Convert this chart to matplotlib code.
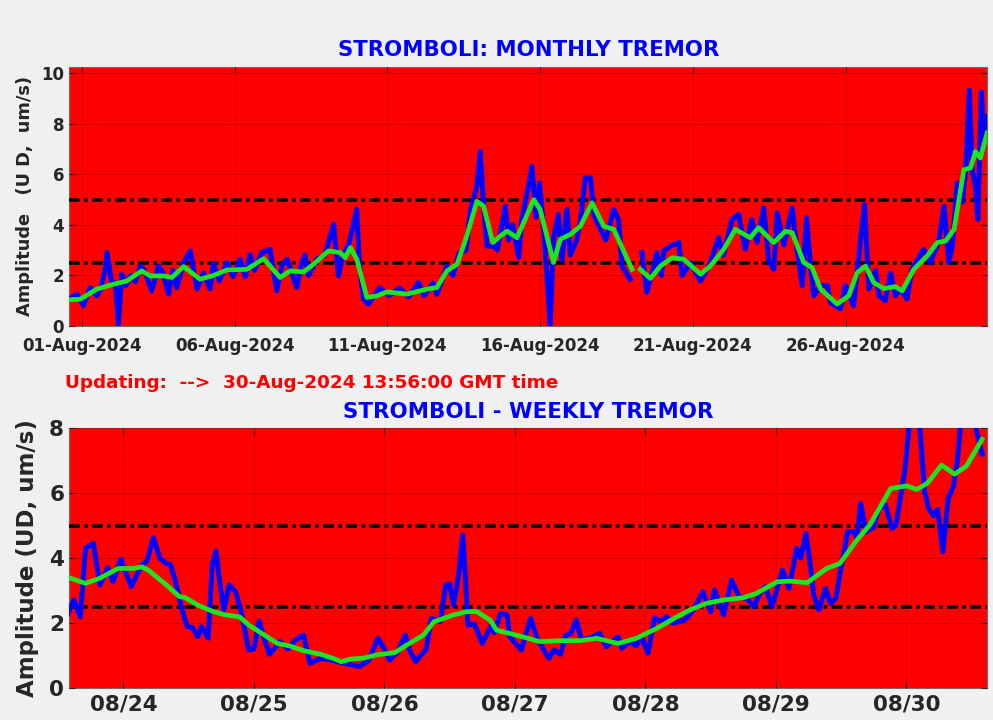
import numpy as np
import pandas as pd
import matplotlib
matplotlib.use('Agg')
from matplotlib import pyplot as plt
from matplotlib import dates as mdates

# monthly tremor, days since 2024-08-01 00:00 (UTC)
m_blue_d = [-0.42, -0.16, 0.05, 0.27, 0.49, 0.62, 0.78, 0.82, 0.88, 0.98,
            1.10, 1.20, 1.31, 1.45, 1.60, 1.75, 1.91, 2.05, 2.29, 2.51,
            2.65, 2.84, 2.97, 3.11, 3.33, 3.55, 3.77, 3.98, 4.20, 4.31,
            4.50, 4.75, 4.95, 5.18, 5.35, 5.51, 5.65, 5.89, 6.16, 6.38,
            6.55, 6.72, 7.04, 7.15, 7.30, 7.42, 7.69, 7.95, 8.24, 8.40,
            8.55, 8.75, 9.00, 9.08, 9.22, 9.38, 9.75, 10.05, 10.40, 10.70,
            11.02, 11.20, 11.50, 11.62, 11.95, 12.15, 12.35, 12.58, 12.71, 12.93,
            13.04, 13.15, 13.26, 13.48, 13.60, 13.86, 13.97, 14.10, 14.30, 14.40,
            14.68, 14.73, 14.87, 14.98, 15.12, 15.33, 15.44, 15.60, 15.71, 15.88,
            15.99, 16.20, 16.32, 16.48, 16.65, 16.76, 16.98, 17.15, 17.41, 17.57,
            17.68, 17.95, np.nan, 18.33, 18.49, 18.70, 18.82, 18.97, 19.05, 19.27,
            19.54, 19.65, 19.92, 20.25, 20.57, 20.84, 21.00, 21.28, 21.50, 21.71,
            21.93, 22.10, 22.32, 22.48, 22.65, 22.76, 22.98, 23.25, 23.41, 23.58,
            23.72, 23.85, 23.96, 24.18, 24.40, 24.50, 24.83, 24.99, 25.26, 25.48,
            25.62, 25.76, 25.98, 26.09, 26.30, 26.47, 26.63, 26.79, 27.01, 27.17,
            27.55, 27.77, 28.04, 28.22, 28.38, 28.49, 28.65, 28.82, 28.93, 29.05,
            29.14, 29.25, 29.33, 29.44, 29.53, 29.63]
m_blue_v = [1.06, 1.26, 0.80, 1.52, 1.19, 1.45, 2.35, 2.90, 2.45, 1.72,
            1.70, 0.08, 2.05, 1.60, 2.00, 1.75, 2.37, 2.20, 1.39, 2.37,
            2.10, 1.26, 2.20, 1.52, 2.50, 2.97, 1.46, 2.10, 1.46, 2.47,
            1.78, 2.51, 1.95, 2.64, 1.95, 2.83, 2.20, 2.90, 3.03, 1.39,
            2.40, 2.64, 1.52, 2.30, 2.80, 2.00, 2.64, 2.80, 4.02, 1.98,
            2.80, 3.30, 4.61, 2.50, 1.06, 0.86, 1.52, 1.20, 1.50, 1.15,
            1.72, 1.20, 1.70, 1.25, 2.37, 2.00, 2.90, 3.00, 4.54, 5.52,
            6.90, 4.80, 3.16, 3.16, 3.00, 4.74, 3.40, 4.00, 2.70, 4.20,
            5.92, 6.31, 4.30, 5.66, 3.82, 0.01, 3.50, 4.41, 2.60, 4.61,
            2.80, 3.40, 4.20, 5.85, 5.85, 4.40, 3.82, 3.40, 4.61, 4.20,
            2.37, 1.85, np.nan, 2.90, 1.33, 2.24, 2.90, 2.00, 2.97, 3.16,
            3.30, 2.00, 2.50, 1.78, 2.50, 3.49, 2.80, 4.21, 4.41, 3.03,
            4.21, 3.30, 4.67, 2.60, 2.24, 4.47, 3.20, 4.67, 3.00, 1.59,
            4.28, 2.40, 1.19, 1.60, 1.60, 0.93, 0.67, 1.60, 0.80, 3.30,
            4.80, 1.46, 2.20, 1.20, 1.00, 2.10, 1.20, 1.46, 1.06, 2.24,
            3.03, 2.50, 3.30, 4.74, 2.51, 3.15, 5.66, 4.90, 6.18, 9.33,
            6.18, 5.52, 4.21, 9.26, 7.30, 8.28]

m_green_d = [-0.42, -0.05, 0.49, 1.03, 1.47, 1.96, 2.24, 2.67, 2.95, 3.33,
             3.87, 4.31, 4.75, 5.40, 5.95, 6.49, 6.82, 7.26, 7.58, 8.07,
             8.46, 8.62, 8.79, 9.00, 9.33, 9.66, 9.99, 10.64, 11.30, 11.62,
             11.95, 12.28, 12.60, 12.93, 13.15, 13.45, 13.70, 13.92, 14.24, 14.46,
             14.79, 15.00, 15.44, 15.66, 15.99, 16.32, 16.70, 17.08, 17.41, 18.01,
             np.nan, 18.28, 18.61, 18.94, 19.32, 19.70, 20.25, 20.57, 21.01, 21.39,
             21.88, 22.15, 22.65, 23.03, 23.25, 23.63, 23.90, 24.18, 24.72, 25.10,
             25.38, 25.65, 25.92, 26.25, 26.63, 26.85, 27.23, 27.67, 28.00, 28.27,
             28.55, 28.87, 29.09, 29.25, 29.41, 29.63]
m_green_v = [1.04, 1.06, 1.46, 1.65, 1.78, 2.18, 1.98, 1.98, 1.92, 2.35,
             1.85, 2.00, 2.22, 2.24, 2.66, 1.92, 2.18, 2.14, 2.44, 2.97,
             2.90, 2.70, 3.10, 2.64, 1.13, 1.19, 1.35, 1.26, 1.46, 1.52,
             2.18, 2.44, 3.56, 4.93, 4.74, 3.30, 3.56, 3.75, 3.49, 4.08,
             5.00, 4.61, 2.51, 3.43, 3.62, 3.95, 4.87, 3.95, 3.82, 2.24,
             np.nan, 2.24, 1.88, 2.37, 2.70, 2.64, 2.05, 2.37, 3.03, 3.82,
             3.49, 3.89, 3.30, 3.75, 3.69, 2.51, 2.31, 1.46, 0.87, 1.19,
             2.11, 2.37, 1.72, 1.48, 1.56, 1.39, 2.24, 2.77, 3.30, 3.36,
             3.82, 6.18, 6.25, 6.90, 6.64, 7.63]

# weekly tremor, days since 2024-08-24 00:00 (UTC)
w_blue_d = [-0.43, -0.38, -0.33, -0.29, -0.23, -0.18, -0.12, -0.08, -0.02, 0.06,
            0.14, 0.18, 0.23, 0.28, 0.33, 0.36, 0.40, 0.45, 0.49, 0.53,
            0.57, 0.60, 0.65, 0.68, 0.71, 0.74, 0.77, 0.81, 0.86, 0.90,
            0.96, 1.00, 1.04, 1.08, 1.12, 1.20, 1.26, 1.32, 1.38, 1.43,
            1.51, 1.61, 1.69, 1.76, 1.81, 1.88, 1.95, 2.00, 2.04, 2.10,
            2.16, 2.20, 2.24, 2.32, 2.36, 2.43, 2.47, 2.50, 2.53, 2.57,
            2.60, 2.62, 2.64, 2.69, 2.75, 2.82, 2.84, 2.89, 2.94, 2.96,
            3.05, 3.12, 3.17, 3.26, 3.30, 3.35, 3.39, 3.43, 3.47, 3.51,
            3.57, 3.65, 3.70, 3.79, 3.82, 3.88, 3.93, 3.97, 4.02, 4.07,
            4.12, 4.16, 4.21, 4.30, 4.36, 4.44, 4.50, 4.53, 4.60, 4.66,
            4.72, 4.78, 4.83, 4.88, 4.92, 4.97, 5.05, 5.10, 5.16, 5.19,
            5.23, 5.26, 5.29, 5.33, 5.38, 5.42, 5.46, 5.49, 5.55, 5.60,
            5.62, 5.65, 5.69, 5.75, 5.79, 5.84, 5.89, 5.92, 5.96, 5.99,
            6.05, 6.10, 6.12, 6.14, 6.17, 6.21, 6.24, 6.28, 6.32, 6.36,
            6.39, 6.44, 6.52, 6.58]
w_blue_v = [2.25, 2.71, 2.19, 4.30, 4.45, 3.17, 3.70, 3.27, 3.96, 3.12,
            3.78, 3.90, 4.63, 3.99, 3.83, 3.80, 3.27, 2.40, 1.89, 1.86,
            1.58, 1.89, 1.53, 3.78, 4.22, 3.20, 2.40, 3.17, 2.96, 2.40,
            1.17, 1.20, 2.06, 1.50, 1.04, 1.43, 1.20, 1.48, 1.63, 0.76,
            0.91, 0.85, 0.76, 0.71, 0.66, 0.85, 1.53, 1.20, 0.86, 1.10,
            1.63, 1.10, 0.81, 1.20, 2.14, 2.05, 3.17, 3.20, 2.55, 3.50,
            4.71, 3.50, 1.94, 1.97, 1.37, 1.94, 1.70, 2.30, 2.25, 1.58,
            1.17, 2.14, 1.53, 0.91, 1.17, 1.04, 1.63, 1.68, 2.09, 1.48,
            1.53, 1.68, 1.27, 1.58, 1.22, 1.43, 1.30, 1.58, 1.07, 2.16,
            2.04, 2.20, 1.99, 2.09, 2.35, 2.96, 2.35, 3.02, 2.25, 3.32,
            2.80, 2.75, 2.50, 2.93, 3.12, 2.50, 3.63, 3.07, 4.30, 4.00,
            4.76, 3.90, 2.86, 2.40, 3.07, 2.60, 2.76, 3.50, 4.81, 4.81,
            4.60, 5.68, 4.81, 4.95, 5.53, 5.63, 4.91, 5.00, 6.00, 6.76,
            9.30, 8.20, 7.07, 6.04, 5.53, 5.30, 5.50, 4.19, 5.84, 6.20,
            6.96, 9.20, 8.20, 7.20]

w_green_d = [-0.42, -0.29, -0.18, -0.04, 0.08, 0.14, 0.19, 0.33, 0.43, 0.47,
             0.57, 0.69, 0.78, 0.89, 0.96, 1.10, 1.18, 1.28, 1.38, 1.51,
             1.61, 1.67, 1.74, 1.84, 1.94, 2.08, 2.17, 2.30, 2.38, 2.53,
             2.63, 2.71, 2.81, 2.86, 3.01, 3.19, 3.37, 3.50, 3.63, 3.79,
             3.93, 4.09, 4.24, 4.34, 4.47, 4.60, 4.75, 4.85, 5.01, 5.11,
             5.24, 5.39, 5.49, 5.62, 5.72, 5.80, 5.88, 6.00, 6.08, 6.16,
             6.27, 6.37, 6.46, 6.58]
w_green_v = [3.40, 3.22, 3.38, 3.68, 3.68, 3.73, 3.63, 3.17, 2.81, 2.79,
             2.55, 2.35, 2.25, 2.19, 1.94, 1.58, 1.37, 1.29, 1.15, 1.04,
             0.91, 0.81, 0.89, 0.92, 1.02, 1.09, 1.32, 1.63, 2.04, 2.25,
             2.35, 2.35, 2.09, 1.78, 1.63, 1.43, 1.46, 1.46, 1.53, 1.37,
             1.53, 1.84, 2.19, 2.40, 2.61, 2.71, 2.78, 2.91, 3.27, 3.29,
             3.24, 3.68, 3.83, 4.55, 5.02, 5.58, 6.14, 6.22, 6.11, 6.30,
             6.86, 6.58, 6.83, 7.65]

thresholds = [2.5, 5.0]
last_update = '30-Aug-2024 13:56:00'


def to_time(base, days):
    return pd.Timestamp(base) + pd.to_timedelta(np.array(days), unit='D')


txt_col = '#262626'
bg_col = '#f0f0f0'

fig = plt.figure(figsize=(9.93, 7.2), dpi=100, facecolor=bg_col)


def style_axes(ax, fsize, xpad):
    ax.set_facecolor('#ff0000')
    ax.grid(True, color='#cc0000', lw=0.6)
    ax.set_axisbelow(False)
    ax.tick_params(direction='in', length=4, top=True, right=True,
                   labelsize=fsize, colors=txt_col, width=0.8)
    ax.tick_params(axis='x', pad=xpad)
    for lab in ax.get_xticklabels() + ax.get_yticklabels():
        lab.set_fontweight('bold')
    for s in ax.spines.values():
        s.set_color('#6e6e6e')
        s.set_linewidth(0.8)


def draw_series(ax, tb, vb, tg, vg):
    for th in thresholds:
        ax.axhline(th, color='k', lw=2.6, dashes=(3, 1.2, 1, 1.2), zorder=3)
    ax.plot(tb, vb, color='#0000ff', lw=3.6, zorder=4)
    ax.plot(tg, vg, color='#1ee61e', lw=3.4, zorder=5)


# %% monthly
ax1 = fig.add_axes([0.0695, 0.5472, 0.9245, 0.3597])
draw_series(ax1, to_time('2024-08-01', m_blue_d), m_blue_v,
            to_time('2024-08-01', m_green_d), m_green_v)
ax1.set_xlim(pd.Timestamp('2024-07-31 13:56'), pd.Timestamp('2024-08-30 15:05'))
ax1.set_ylim(0, 10.24)
ax1.set_yticks(np.arange(0, 11, 2))
ax1.xaxis.set_major_locator(mdates.DayLocator(bymonthday=[1, 6, 11, 16, 21, 26]))
ax1.xaxis.set_major_formatter(mdates.DateFormatter('%d-%b-%Y'))
style_axes(ax1, 12, 8)

# %% weekly
ax2 = fig.add_axes([0.0695, 0.0444, 0.9245, 0.3611])
draw_series(ax2, to_time('2024-08-24', w_blue_d), w_blue_v,
            to_time('2024-08-24', w_green_d), w_green_v)
ax2.set_xlim(pd.Timestamp('2024-08-23 14:00'), pd.Timestamp('2024-08-30 14:50'))
ax2.set_ylim(0, 8)
ax2.set_yticks(np.arange(0, 9, 2))
ax2.xaxis.set_major_locator(mdates.DayLocator())
ax2.xaxis.set_major_formatter(mdates.DateFormatter('%m/%d'))
style_axes(ax2, 15.5, 5)

# %% texts
fig.text(0.532, 0.9306, 'STROMBOLI: MONTHLY TREMOR', color='#0000ff',
         fontsize=15.3, fontweight='bold', ha='center', va='center')
fig.text(0.0655, 0.468, f'Updating:  -->  {last_update} GMT time', color='#ff0000',
         fontsize=13.2, fontweight='bold', ha='left', va='center')
fig.text(0.532, 0.4278, 'STROMBOLI - WEEKLY TREMOR', color='#0000ff',
         fontsize=15.4, fontweight='bold', ha='center', va='center')
fig.text(0.025, 0.728, 'Amplitude   (U D,  um/s)', color=txt_col, rotation=90,
         fontsize=12.8, fontweight='bold', ha='center', va='center')
fig.text(0.028, 0.225, 'Amplitude (UD, um/s)', color=txt_col, rotation=90,
         fontsize=16.5, fontweight='bold', ha='center', va='center')

fig.savefig('out.png', dpi=100, facecolor=bg_col)
